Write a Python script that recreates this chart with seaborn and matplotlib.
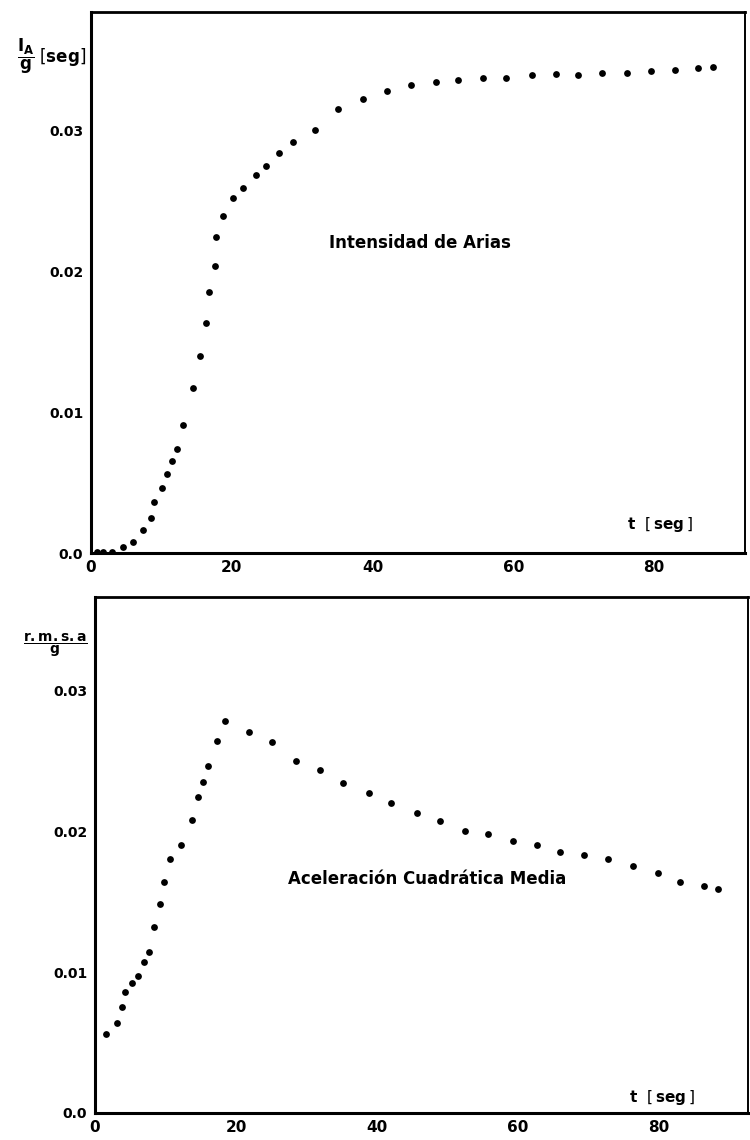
import matplotlib
matplotlib.use("Agg")
import matplotlib.pyplot as plt
import seaborn as sns
import pandas as pd

# ---- Data ----
t_arias = [0.85, 1.7, 3.0, 4.6, 6.0, 7.4, 8.5, 9.0, 10.1, 10.8, 11.5, 12.2, 13.1,
           14.5, 15.5, 16.3, 16.8, 17.6, 17.7, 18.7, 20.1, 21.6, 23.4, 24.9, 26.7,
           28.7, 31.8, 35.1, 38.7, 42.1, 45.4, 49.0, 52.1, 55.7, 59.0, 62.6, 66.0,
           69.2, 72.6, 76.1, 79.5, 83.0, 86.2, 88.3]
ia_g = [0.0001, 0.0001, 0.0001, 0.0004, 0.0008, 0.0016, 0.0025, 0.0036, 0.0046,
        0.0056, 0.0065, 0.0074, 0.0091, 0.0117, 0.0140, 0.0163, 0.0185, 0.0204,
        0.0224, 0.0239, 0.0252, 0.0259, 0.0268, 0.0275, 0.0284, 0.0292, 0.0300,
        0.0315, 0.0322, 0.0328, 0.0332, 0.0334, 0.0336, 0.0337, 0.0337, 0.0339,
        0.0340, 0.0339, 0.0341, 0.0341, 0.0342, 0.0343, 0.0344, 0.0345]

t_rms = [1.5, 3.1, 3.8, 4.3, 5.2, 6.1, 7.0, 7.6, 8.4, 9.2, 9.8, 10.7, 12.2, 13.7,
         14.6, 15.3, 16.0, 17.3, 18.5, 21.8, 25.1, 28.5, 31.9, 35.1, 38.8, 42.0,
         45.7, 48.9, 52.5, 55.8, 59.3, 62.7, 65.9, 69.3, 72.8, 76.3, 79.8, 83.0,
         86.4, 88.4]
rms_g = [0.0056, 0.0064, 0.0075, 0.0086, 0.0092, 0.0097, 0.0107, 0.0114, 0.0132,
         0.0148, 0.0164, 0.0180, 0.0190, 0.0208, 0.0224, 0.0235, 0.0246, 0.0264,
         0.0278, 0.0270, 0.0263, 0.0250, 0.0243, 0.0234, 0.0227, 0.0220, 0.0213,
         0.0207, 0.0200, 0.0198, 0.0193, 0.0190, 0.0185, 0.0183, 0.0180, 0.0175,
         0.0170, 0.0164, 0.0161, 0.0159]

x_ticks = [0, 20, 40, 60, 80]
x_ticklabels = ["0", "20", "40", "60", "80"]
y_ticks = [0.0, 0.01, 0.02, 0.03]
y_ticklabels = ["0.0", "0.01", "0.02", "0.03"]

title_top = "Intensidad de Arias"
title_bottom = "Aceleración Cuadrática Media"

sns.set_theme(style="white")
plt.rcParams["font.family"] = ["DejaVu Sans"]
plt.rcParams["text.color"] = "black"
plt.rcParams["axes.labelcolor"] = "black"
plt.rcParams["xtick.color"] = "black"
plt.rcParams["ytick.color"] = "black"
plt.rcParams["mathtext.fontset"] = "dejavusans"

fig = plt.figure(figsize=(7.5, 11.4), dpi=100)
ax1 = fig.add_axes([91/750, 1-553/1140, (745-91)/750, (553-12)/1140])
ax2 = fig.add_axes([95/750, 1-1113/1140, (748-95)/750, (1113-597)/1140])

df1 = pd.DataFrame({"t": t_arias, "v": ia_g})
df2 = pd.DataFrame({"t": t_rms, "v": rms_g})

sns.scatterplot(data=df1, x="t", y="v", ax=ax1, color="black", s=24, linewidth=0)
sns.scatterplot(data=df2, x="t", y="v", ax=ax2, color="black", s=24, linewidth=0)

ax1.set_xlim(0, 92.9)
ax1.set_ylim(0, 0.0384)
ax2.set_xlim(0, 92.6)
ax2.set_ylim(0, 0.0366)

for ax in (ax1, ax2):
    ax.set_xlabel("")
    ax.set_ylabel("")
    ax.set_xticks(x_ticks)
    ax.set_xticklabels(x_ticklabels, fontsize=11, fontweight="bold")
    ax.set_yticks(y_ticks)
    ax.set_yticklabels(y_ticklabels, fontsize=10, fontweight="bold")
    ax.tick_params(axis="x", direction="in", length=5, width=1.5, pad=5, colors="black")
    ax.tick_params(axis="y", direction="inout", length=5, width=1.5, pad=3, colors="black")
    for side, lw in (("left", 2.2), ("bottom", 2.2), ("top", 2.0), ("right", 1.4)):
        ax.spines[side].set_visible(True)
        ax.spines[side].set_color("black")
        ax.spines[side].set_linewidth(lw)
    ax.grid(False)

ax1.text(0.503, 0.573, title_top, transform=ax1.transAxes, ha="center", va="center",
         fontsize=12, fontweight="bold", color="black")
ax2.text(0.508, 0.453, title_bottom, transform=ax2.transAxes, ha="center", va="center",
         fontsize=12, fontweight="bold", color="black")

ax1.text(0.87, 0.052, r"t  $\left[\,\mathbf{seg}\,\right]$", transform=ax1.transAxes,
         ha="center", va="center", fontsize=11, fontweight="bold", color="black")
ax2.text(0.868, 0.03, r"t  $\left[\,\mathbf{seg}\,\right]$", transform=ax2.transAxes,
         ha="center", va="center", fontsize=11, fontweight="bold", color="black")

fig.text(52/750, 1-56/1140, r"$\mathbf{\dfrac{I_A}{g}}\;\left[\mathbf{seg}\right]$",
         ha="center", va="center", fontsize=12, color="black")
fig.text(55/750, 1-645/1140, r"$\mathbf{\dfrac{r.m.s.a}{g}}$",
         ha="center", va="center", fontsize=10, color="black")

fig.savefig("out.png", dpi=100, facecolor="white")
